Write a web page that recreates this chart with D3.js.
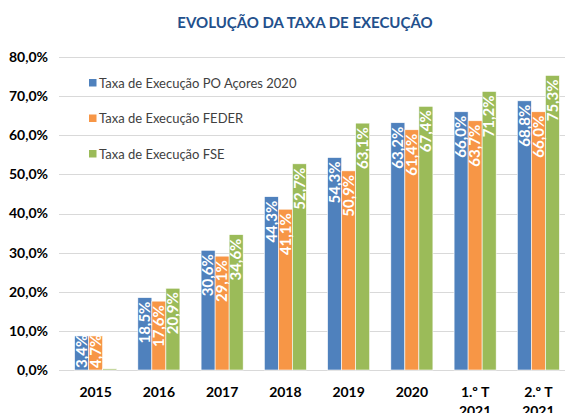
<!DOCTYPE html>
<html>
<head>
<meta charset="utf-8">
<script src="https://cdn.jsdelivr.net/npm/d3@7"></script>
<style>
  body { margin: 0; background: #fff; }
  svg { display: block; font-family: Lato, "Open Sans", sans-serif; }
</style>
</head>
<body>
<div id="chart"></div>
<script>
// Categories (second line of the label after "|")
const categories = ["2015", "2016", "2017", "2018", "2019", "2020", "1.º T|2021", "2.º T|2021"];

// Bar heights as drawn in the chart (%)
const poValues    = [8.7, 18.5, 30.6, 44.3, 54.3, 63.2, 66.0, 68.8];
const federValues = [8.7, 17.6, 29.1, 41.1, 50.9, 61.4, 63.7, 66.0];
const fseValues   = [0.3, 20.9, 34.6, 52.7, 63.1, 67.4, 71.2, 75.3];

// Values printed on the bars (%)
const poLabels    = [3.4, 18.5, 30.6, 44.3, 54.3, 63.2, 66.0, 68.8];
const federLabels = [4.7, 17.6, 29.1, 41.1, 50.9, 61.4, 63.7, 66.0];
const fseLabels   = [0.0, 20.9, 34.6, 52.7, 63.1, 67.4, 71.2, 75.3];

const seriesNames = ["Taxa de Execução PO Açores 2020", "Taxa de Execução FEDER", "Taxa de Execução FSE"];
const yTicks = [0, 10, 20, 30, 40, 50, 60, 70, 80];

const colors = ["#4F81BD", "#F79646", "#9BBB59"];
const series = [
    { name: seriesNames[0], values: poValues, labels: poLabels, color: colors[0] },
    { name: seriesNames[1], values: federValues, labels: federLabels, color: colors[1] },
    { name: seriesNames[2], values: fseValues, labels: fseLabels, color: colors[2] }
];

const width = 565, height = 413;
const margin = { top: 57, right: -5, bottom: 43, left: 64 };

const svg = d3.select("#chart").append("svg")
    .attr("width", width)
    .attr("height", height);

// Title
svg.append("text")
    .attr("x", 305)
    .attr("y", 28)
    .attr("text-anchor", "middle")
    .style("font-size", "15px")
    .style("font-weight", "bold")
    .style("fill", "#23508C")
    .text("EVOLUÇÃO DA TAXA DE EXECUÇÃO");

// Scales
const x0 = d3.scaleBand()
    .domain(categories)
    .range([margin.left, width - margin.right])
    .paddingInner(0.335)
    .paddingOuter(0.1675);

const x1 = d3.scaleBand()
    .domain(d3.range(series.length))
    .range([0, x0.bandwidth()]);

const y = d3.scaleLinear()
    .domain([0, 80])
    .range([height - margin.bottom, margin.top]);

// Gridlines
svg.append("g")
    .selectAll("line")
    .data(yTicks)
    .enter().append("line")
    .attr("x1", 59)
    .attr("x2", width)
    .attr("y1", d => Math.round(y(d)) + 0.5)
    .attr("y2", d => Math.round(y(d)) + 0.5)
    .style("stroke", "#D9D9D9")
    .style("stroke-width", 1);

// Y axis labels
svg.append("g")
    .selectAll("text")
    .data(yTicks)
    .enter().append("text")
    .attr("x", 48)
    .attr("y", d => y(d))
    .attr("dy", "0.35em")
    .attr("text-anchor", "end")
    .style("font-size", "14px")
    .style("font-weight", "bold")
    .style("fill", "#000")
    .text(d => d.toFixed(1).replace(".", ",") + "%");

// Bars
const groups = svg.append("g")
    .selectAll("g")
    .data(categories)
    .enter().append("g")
    .attr("transform", d => "translate(" + x0(d) + ",0)");

groups.selectAll("rect")
    .data((d, i) => series.map((s, j) => ({ j: j, v: s.values[i], color: s.color })))
    .enter().append("rect")
    .attr("x", d => x1(d.j))
    .attr("width", x1.bandwidth())
    .attr("y", d => y(d.v))
    .attr("height", d => y(0) - y(d.v))
    .style("fill", d => d.color)
    .style("stroke", "#fff")
    .style("stroke-width", 0.6);

// Data labels (rotated, inside end)
groups.selectAll("text")
    .data((d, i) => series.map((s, j) => ({ j: j, v: s.values[i], lab: s.labels[i] })))
    .enter().append("text")
    .style("font-size", "15px")
    .style("font-weight", "bold")
    .style("fill", "#fff")
    .attr("text-anchor", "end")
    .attr("dy", "0.35em")
    .text(d => d.lab.toFixed(1).replace(".", ",") + "%")
    .each(function (d) {
        const len = this.getComputedTextLength();
        const cx = x1(d.j) + x1.bandwidth() / 2;
        const top = Math.min(y(d.v) + 4, y(0) - len - 2);
        d3.select(this).attr("transform", "translate(" + cx + "," + top + ") rotate(-90)");
    });

// X axis labels
const xLabels = svg.append("g")
    .selectAll("text")
    .data(categories)
    .enter().append("text")
    .attr("x", d => x0(d) + x0.bandwidth() / 2)
    .attr("y", 397)
    .attr("text-anchor", "middle")
    .style("font-size", "14px")
    .style("font-weight", "bold")
    .style("fill", "#000");

xLabels.selectAll("tspan")
    .data(d => d.split("|"))
    .enter().append("tspan")
    .attr("x", function () { return d3.select(this.parentNode).attr("x"); })
    .attr("dy", (d, i) => i === 0 ? 0 : 19)
    .text(d => d);

// Legend
const legend = svg.append("g")
    .selectAll("g")
    .data(series)
    .enter().append("g")
    .attr("transform", (d, i) => "translate(89," + (83 + i * 35.5) + ")");

legend.append("rect")
    .attr("x", 0)
    .attr("y", -4)
    .attr("width", 7.5)
    .attr("height", 7.5)
    .style("fill", d => d.color);

legend.append("text")
    .attr("x", 10)
    .attr("y", 0)
    .attr("dy", "0.35em")
    .style("font-size", "13px")
    .style("fill", "#404040")
    .text(d => d.name);
</script>
</body>
</html>
